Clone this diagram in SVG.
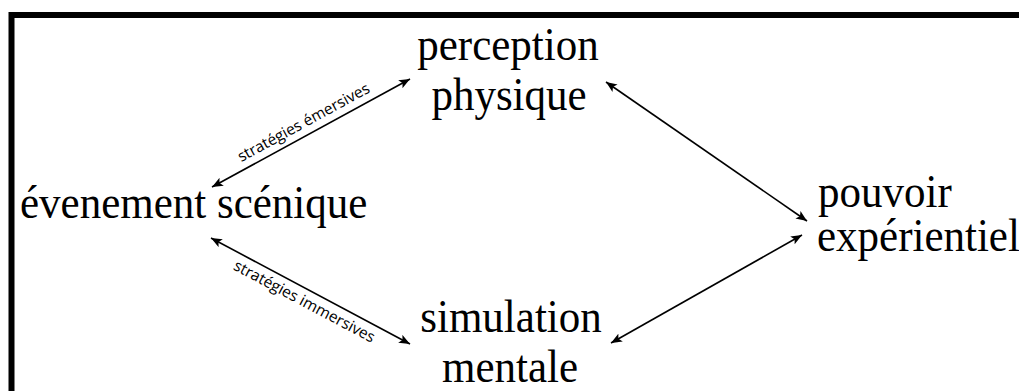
<svg xmlns="http://www.w3.org/2000/svg" width="1019" height="391" viewBox="0 0 1019 391">
<style>
.t{font-family:"Liberation Serif","Times New Roman",serif;font-size:43px;fill:#000}
.lbl{font-family:"Open Sans","Noto Sans",sans-serif;font-size:15.5px;fill:#000}
.c{stroke:#000;stroke-width:1.6;fill:none;marker-start:url(#ah);marker-end:url(#ah)}
</style>
<defs>
<marker id="ah" markerUnits="userSpaceOnUse" markerWidth="12" markerHeight="10" refX="11" refY="4.5" orient="auto-start-reverse" viewBox="0 0 12 9">
<path d="M0,0 L11,4.5 L0,9 L2.5,4.5 z" fill="#000"/>
</marker>
</defs>
<rect x="0" y="0" width="1019" height="391" fill="#fff"/>
<path d="M11.5,400 V15 H1030" fill="none" stroke="#000" stroke-width="6"/>
<g id="connectors">
<line class="c" x1="212" y1="187" x2="410" y2="79"/>
<line class="c" x1="211" y1="238" x2="410" y2="344"/>
<line class="c" x1="606" y1="82" x2="807" y2="221"/>
<line class="c" x1="611" y1="343" x2="802" y2="235"/>
<text class="lbl" text-anchor="middle" transform="translate(306,127) rotate(-28.6)">stratégies émersives</text>
<text class="lbl" text-anchor="middle" transform="translate(302,306) rotate(28)">stratégies immersives</text>
</g>
<g id="perception">
<text class="t" text-anchor="middle" transform="translate(508,60) scale(1,1.06)">perception</text>
<text class="t" text-anchor="middle" transform="translate(509,110) scale(1,1.06)">physique</text>
</g>
<g id="evenement">
<text class="t" transform="translate(20,218) scale(1,1.06)">évenement scénique</text>
</g>
<g id="pouvoir">
<text class="t" transform="translate(818,207) scale(1,1.06)">pouvoir</text>
<text class="t" transform="translate(817,251) scale(1,1.06)">expérientiel</text>
</g>
<g id="simulation">
<text class="t" text-anchor="middle" transform="translate(511,332) scale(1,1.06)">simulation</text>
<text class="t" text-anchor="middle" transform="translate(510,382) scale(1,1.06)">mentale</text>
</g>
</svg>
